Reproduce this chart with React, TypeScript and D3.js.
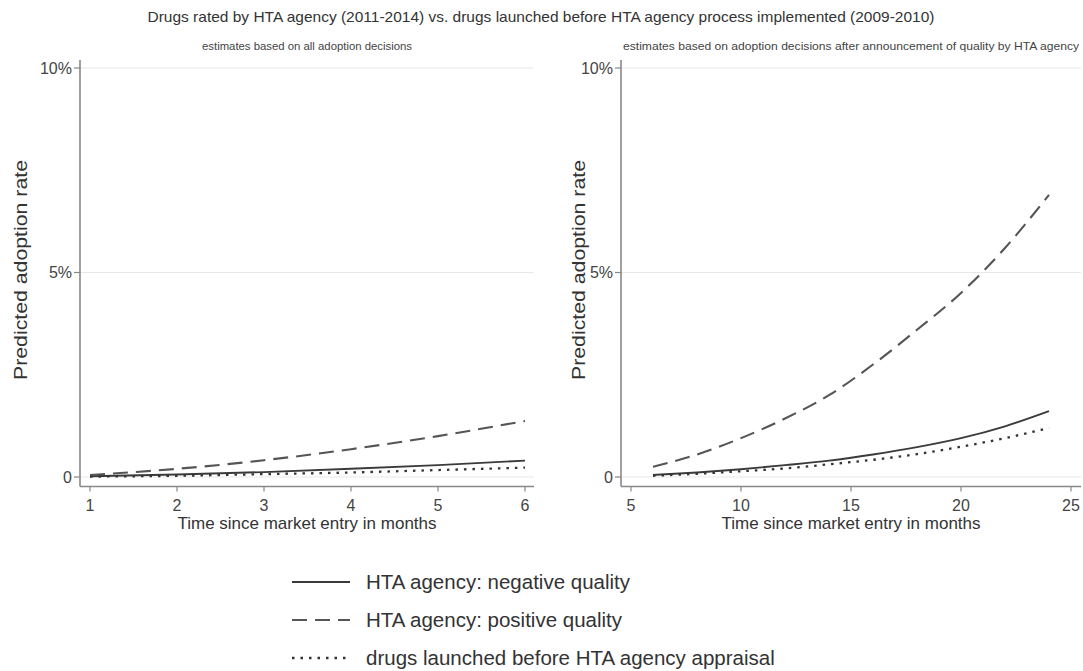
import React from "react";
import * as d3 from "d3";

const title = "Drugs rated by HTA agency (2011-2014) vs. drugs launched before HTA agency process implemented (2009-2010)";
const subtitles = ["estimates based on all adoption decisions", "estimates based on adoption decisions after announcement of quality by HTA agency"];
const yTicks = [0, 5, 10];
const yTickLabels = ["0", "5%", "10%"];
const leftXTicks = [1, 2, 3, 4, 5, 6];
const rightXTicks = [5, 10, 15, 20, 25];

const leftMonths = [1, 2, 3, 4, 5, 6];
const leftNegative = [0.02, 0.06, 0.12, 0.2, 0.29, 0.4];
const leftPositive = [0.05, 0.2, 0.41, 0.68, 1.0, 1.37];
const leftBefore = [0.01, 0.03, 0.07, 0.11, 0.17, 0.23];

const rightMonths = [6, 8, 10, 12, 14, 16, 18, 20, 22, 24];
const rightNegative = [0.05, 0.11, 0.19, 0.29, 0.4, 0.55, 0.73, 0.95, 1.24, 1.61];
const rightPositive = [0.25, 0.55, 0.95, 1.43, 2.0, 2.75, 3.6, 4.5, 5.6, 6.9];
const rightBefore = [0.03, 0.08, 0.14, 0.21, 0.31, 0.42, 0.56, 0.74, 0.95, 1.2];

const legendLabels = ["HTA agency: negative quality", "HTA agency: positive quality", "drugs launched before HTA agency appraisal"];

const styles = [
  { dash: "none", color: "#3a3a3a", width: 1.9 },
  { dash: "15,8", color: "#555", width: 2.1 },
  { dash: "2.5,6", color: "#333", width: 2.3 },
];

const FONT = "'Liberation Sans', Arial, Helvetica, sans-serif";

type PanelProps = {
  x0: number; x1: number; axisEnd: number; xDomain: [number, number];
  xTicks: number[]; months: number[]; series: number[][]; subtitle: string; subLen: number; ylabelX: number;
};

function Panel({ x0, x1, axisEnd, xDomain, xTicks, months, series, subtitle, subLen, ylabelX }: PanelProps) {
  const yAxisX = x0 - 10;
  const x = d3.scaleLinear().domain(xDomain).range([x0, x1]);
  const y = d3.scaleLinear().domain([0, 10]).range([477, 68]);
  const axisY = 486.5;
  const line = d3.line<[number, number]>().x(d => x(d[0])).y(d => y(d[1])).curve(d3.curveMonotoneX);
  const cx = (yAxisX + axisEnd) / 2;
  return (
    <g>
      {yTicks.map(t => (
        <line key={"g" + t} x1={yAxisX} x2={axisEnd} y1={y(t)} y2={y(t)} stroke="#e8e8e8" strokeWidth={1.2} />
      ))}
      {series.map((s, i) => (
        <path key={i} d={line(months.map((m, j) => [m, s[j]] as [number, number])) || ""} fill="none"
          stroke={styles[i].color} strokeWidth={styles[i].width} strokeDasharray={styles[i].dash} />
      ))}
      <line x1={yAxisX} x2={yAxisX} y1={60} y2={axisY} stroke="#888" strokeWidth={1.6} />
      <line x1={yAxisX} x2={axisEnd} y1={axisY} y2={axisY} stroke="#888" strokeWidth={1.6} />
      {yTicks.map((t, i) => (
        <g key={"y" + t}>
          <line x1={yAxisX - 6} x2={yAxisX} y1={y(t)} y2={y(t)} stroke="#888" strokeWidth={1.2} />
          <text x={yAxisX - 8} y={y(t)} dy="0.35em" textAnchor="end" fontSize={16} fill="#444" fontFamily={FONT}>{yTickLabels[i]}</text>
        </g>
      ))}
      {xTicks.map(t => (
        <g key={"x" + t}>
          <line x1={x(t)} x2={x(t)} y1={axisY} y2={axisY + 5} stroke="#888" strokeWidth={1.2} />
          <text x={x(t)} y={511} textAnchor="middle" fontSize={16} fill="#444" fontFamily={FONT}>{t}</text>
        </g>
      ))}
      <text x={cx} y={529} textAnchor="middle" fontSize={17} fill="#333" fontFamily={FONT}
        textLength={259} lengthAdjust="spacingAndGlyphs">Time since market entry in months</text>
      <text transform={`translate(${ylabelX},270) rotate(-90)`} textAnchor="middle" fontSize={18} fill="#333" fontFamily={FONT}
        textLength={220} lengthAdjust="spacingAndGlyphs">Predicted adoption rate</text>
      <text x={cx} y={50} textAnchor="middle" fontSize={11} fill="#444" fontFamily={FONT}
        textLength={subLen} lengthAdjust="spacingAndGlyphs">{subtitle}</text>
    </g>
  );
}

export default function App() {
  return (
    <svg width={1083} height={671} style={{ display: "block", position: "absolute", left: 0, top: 0, background: "#fff" }}>
      <rect width={1083} height={671} fill="#fff" />
      <text x={541} y={22} textAnchor="middle" fontSize={15} fill="#333" fontFamily={FONT}
        textLength={787} lengthAdjust="spacingAndGlyphs">{title}</text>
      <Panel x0={90} x1={525} axisEnd={534} xDomain={[1, 6]} xTicks={leftXTicks} months={leftMonths}
        series={[leftNegative, leftPositive, leftBefore]} subtitle={subtitles[0]} subLen={210} ylabelX={27} />
      <Panel x0={631} x1={1071} axisEnd={1081} xDomain={[5, 25]} xTicks={rightXTicks} months={rightMonths}
        series={[rightNegative, rightPositive, rightBefore]} subtitle={subtitles[1]} subLen={456} ylabelX={585} />
      {legendLabels.map((l, i) => (
        <g key={l}>
          <line x1={292} x2={350} y1={582 + i * 38} y2={582 + i * 38} stroke={styles[i].color}
            strokeWidth={styles[i].width} strokeDasharray={styles[i].dash} />
          <text x={366} y={582 + i * 38} dy="0.35em" fontSize={20.5} fill="#333" fontFamily={FONT}>{l}</text>
        </g>
      ))}
    </svg>
  );
}
